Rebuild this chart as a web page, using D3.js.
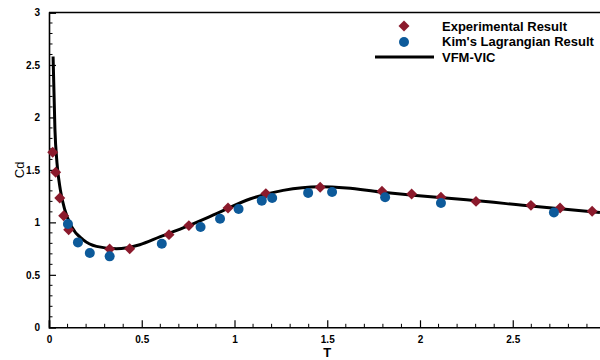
<!DOCTYPE html>
<html>
<head>
<meta charset="utf-8">
<script src="https://cdn.jsdelivr.net/npm/d3@7"></script>
<style>
  body { margin: 0; background: #fff; }
  svg { display: block; font-family: "Liberation Sans", Arial, sans-serif; }
  .tick text { font-weight: bold; font-size: 10px; fill: #000; }
</style>
</head>
<body>
<script>
// experimental result (diamonds)
var expT  = [0.020, 0.036, 0.058, 0.079, 0.106, 0.327, 0.435, 0.647, 0.754, 0.965, 1.169, 1.462, 1.795, 1.955, 2.113, 2.302, 2.598, 2.755, 2.928];
var expCd = [1.668, 1.477, 1.233, 1.064, 0.930, 0.746, 0.749, 0.883, 0.969, 1.137, 1.274, 1.334, 1.296, 1.271, 1.239, 1.200, 1.162, 1.137, 1.105];

// Kim's Lagrangian result (circles)
var kimT  = [0.102, 0.156, 0.220, 0.327, 0.608, 0.817, 0.922, 1.022, 1.147, 1.203, 1.397, 1.526, 1.812, 2.113, 2.722];
var kimCd = [0.985, 0.809, 0.708, 0.676, 0.797, 0.956, 1.035, 1.128, 1.207, 1.233, 1.281, 1.290, 1.239, 1.185, 1.095];

// VFM-VIC curve
var vicT  = [0.022, 0.032, 0.043, 0.061, 0.085, 0.121, 0.183, 0.256, 0.364, 0.489, 0.597, 0.723, 0.903, 1.083, 1.262, 1.460, 1.604, 1.784, 1.963, 2.107, 2.251, 2.611, 2.970];
var vicCd = [2.580, 1.885, 1.567, 1.312, 1.121, 0.962, 0.835, 0.771, 0.749, 0.787, 0.861, 0.947, 1.083, 1.223, 1.305, 1.340, 1.328, 1.290, 1.258, 1.236, 1.215, 1.153, 1.095];

var xTicks = [0, 0.5, 1, 1.5, 2, 2.5];
var yTicks = [0, 0.5, 1, 1.5, 2, 2.5, 3];
var legendNames = ["Experimental Result", "Kim's Lagrangian Result", "VFM-VIC"];

var w = 600, h = 360;
var redCol = "#8b1a2c", blueCol = "#0d5a9a";

var svg = d3.select("body").append("svg")
    .attr("width", w)
    .attr("height", h);

var x = d3.scaleLinear().domain([0, 3]).range([49, 605.5]);
var y = d3.scaleLinear().domain([0, 3]).range([327.3, 12.5]);

// minor ticks (inward)
var minorX = d3.range(0, 3.001, 0.1).filter(function(d){ return Math.abs(d * 2 - Math.round(d * 2)) > 1e-6; });
var minorY = d3.range(0, 3.001, 0.1).filter(function(d){ return Math.abs(d * 2 - Math.round(d * 2)) > 1e-6; });

svg.append("g").selectAll("line")
    .data(minorX).enter().append("line")
    .attr("x1", function(d){ return x(d); })
    .attr("x2", function(d){ return x(d); })
    .attr("y1", y(0)).attr("y2", y(0) - 3.5)
    .attr("stroke", "#000").attr("stroke-width", 1);

svg.append("g").selectAll("line")
    .data(minorY).enter().append("line")
    .attr("y1", function(d){ return y(d); })
    .attr("y2", function(d){ return y(d); })
    .attr("x1", x(0)).attr("x2", x(0) + 3.5)
    .attr("stroke", "#000").attr("stroke-width", 1);

// frame: top line
svg.append("line")
    .attr("x1", x(0)).attr("x2", x(3))
    .attr("y1", y(3)).attr("y2", y(3))
    .attr("stroke", "#000").attr("stroke-width", 1.6);
svg.append("line")
    .attr("x1", x(3)).attr("x2", x(3))
    .attr("y1", y(3)).attr("y2", y(0))
    .attr("stroke", "#000").attr("stroke-width", 1.6);

var xAxis = svg.append("g")
    .attr("transform", "translate(0," + y(0) + ")")
    .call(d3.axisBottom(x).tickValues(xTicks).tickSize(-7).tickPadding(9)
        .tickFormat(d3.format("")));
xAxis.select(".domain").attr("stroke-width", 1.6);
xAxis.selectAll(".tick line").attr("stroke-width", 1.2);

var yAxis = svg.append("g")
    .attr("transform", "translate(" + x(0) + ",0)")
    .call(d3.axisLeft(y).tickValues(yTicks).tickSize(-7).tickPadding(9)
        .tickFormat(d3.format("")));
yAxis.select(".domain").attr("stroke-width", 1.6);
yAxis.selectAll(".tick line").attr("stroke-width", 1.2);

// axis titles
svg.append("text")
    .attr("transform", "translate(24," + y(1.5) + ") rotate(-90)")
    .attr("text-anchor", "middle")
    .style("font-size", "13px")
    .text("Cd");

svg.append("text")
    .attr("x", x(1.5))
    .attr("y", 357)
    .attr("text-anchor", "middle")
    .style("font-size", "13px")
    .style("font-weight", "bold")
    .text("T");

// VFM-VIC line
var line = d3.line()
    .x(function(d){ return x(d[0]); })
    .y(function(d){ return y(d[1]); })
    .curve(d3.curveMonotoneX);

svg.append("path")
    .datum(d3.zip(vicT, vicCd))
    .attr("d", line)
    .attr("fill", "none")
    .attr("stroke", "#000")
    .attr("stroke-width", 3);

// experimental diamonds
var diamond = d3.symbol().type(d3.symbolSquare).size(60);
svg.append("g").selectAll("path")
    .data(d3.zip(expT, expCd)).enter().append("path")
    .attr("d", diamond)
    .attr("transform", function(d){ return "translate(" + x(d[0]) + "," + y(d[1]) + ") rotate(45)"; })
    .attr("fill", redCol);

// Kim's circles
svg.append("g").selectAll("circle")
    .data(d3.zip(kimT, kimCd)).enter().append("circle")
    .attr("cx", function(d){ return x(d[0]); })
    .attr("cy", function(d){ return y(d[1]); })
    .attr("r", 5)
    .attr("fill", blueCol);

// legend
var leg = svg.append("g");
leg.append("path")
    .attr("d", diamond)
    .attr("transform", "translate(404,26) rotate(45)")
    .attr("fill", redCol);
leg.append("circle")
    .attr("cx", 404).attr("cy", 42).attr("r", 5)
    .attr("fill", blueCol);
leg.append("line")
    .attr("x1", 375).attr("x2", 434)
    .attr("y1", 57).attr("y2", 57)
    .attr("stroke", "#000").attr("stroke-width", 3);

leg.selectAll("text")
    .data(legendNames).enter().append("text")
    .attr("x", 442)
    .attr("y", function(d, i){ return 26 + i * 15.5; })
    .attr("dy", "0.35em")
    .style("font-size", "13px")
    .style("font-weight", "bold")
    .text(function(d){ return d; });
</script>
</body>
</html>
